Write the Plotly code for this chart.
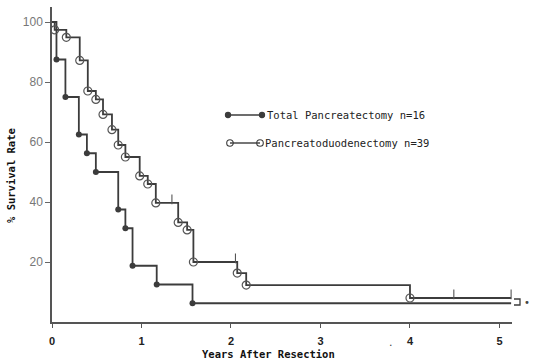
import plotly.graph_objects as go

# ---- data ----
tp_times = [0.05, 0.15, 0.30, 0.39, 0.49, 0.74, 0.82, 0.90, 1.17, 1.57]
tp_surv = [87.5, 75.0, 62.5, 56.25, 50.0, 37.5, 31.25, 18.75, 12.5, 6.25]
tp_end = 5.13

pd_times = [0.03, 0.16, 0.31, 0.40, 0.49, 0.57, 0.67, 0.74, 0.82, 0.98, 1.07, 1.16,
            1.41, 1.51, 1.58, 2.07, 2.17, 4.00]
pd_surv = [97.4, 94.9, 87.2, 77.0, 74.2, 69.2, 64.1, 59.0, 55.0, 48.7, 46.0, 39.7,
           33.2, 30.7, 20.0, 16.3, 12.3, 8.0]
pd_end = 5.13
pd_censor_times = [1.34, 2.05, 4.49, 5.13]

x_ticks = [0, 1, 2, 3, 4, 5]
y_ticks = [20, 40, 60, 80, 100]

tp_label = "Total Pancreatectomy n=16"
pd_label = "Pancreatoduodenectomy n=39"

LINE = "#3c3c3c"
MONO = "DejaVu Sans Mono"


def step_value(times, surv, t):
    v = 100.0
    for ti, si in zip(times, surv):
        if ti <= t:
            v = si
    return v


fig = go.Figure()

# step curves
fig.add_trace(go.Scatter(x=[0] + tp_times + [tp_end], y=[100] + tp_surv + [tp_surv[-1]],
                         mode="lines", line=dict(shape="hv", color=LINE, width=1.8),
                         showlegend=False, hoverinfo="skip"))
fig.add_trace(go.Scatter(x=[0] + pd_times + [pd_end], y=[100] + pd_surv + [pd_surv[-1]],
                         mode="lines", line=dict(shape="hv", color=LINE, width=1.8),
                         showlegend=False, hoverinfo="skip"))
# event markers
fig.add_trace(go.Scatter(x=tp_times, y=tp_surv, mode="markers",
                         marker=dict(symbol="circle", size=6, color=LINE),
                         name=tp_label, showlegend=False))
fig.add_trace(go.Scatter(x=pd_times, y=pd_surv, mode="markers",
                         marker=dict(symbol="circle-open", size=8, color="#555555",
                                     line=dict(width=1.2)),
                         name=pd_label, showlegend=False))
# censor ticks (drawn just above the curve)
cy = [step_value(pd_times, pd_surv, t) + 1.2 for t in pd_censor_times]
fig.add_trace(go.Scatter(x=pd_censor_times, y=cy, mode="markers",
                         marker=dict(symbol="line-ns", size=7, color="#555555",
                                     line=dict(width=1.1, color="#555555")),
                         showlegend=False, hoverinfo="skip"))

# ---- manual legend (marker at both ends of a short line) ----
def px_x(p):
    return (p - 52) / 460.0


def px_y(p):
    return (322 - p) / 315.0


shapes = []
annotations = []
legend_rows = [(tp_label, 115, 228, 262, "filled"), (pd_label, 143, 230, 260, "open")]
for label, yy, xa, xb, kind in legend_rows:
    shapes.append(dict(type="line", xref="paper", yref="paper",
                       x0=px_x(xa), x1=px_x(xb), y0=px_y(yy), y1=px_y(yy),
                       line=dict(color=LINE, width=1.4)))
    for xc in (xa, xb):
        r = 2.6 if kind == "filled" else 3.3
        shapes.append(dict(type="circle", xref="paper", yref="paper",
                           x0=px_x(xc - r), x1=px_x(xc + r),
                           y0=px_y(yy + r), y1=px_y(yy - r),
                           fillcolor=LINE if kind == "filled" else "rgba(0,0,0,0)",
                           line=dict(color=LINE, width=1.1)))
    annotations.append(dict(xref="paper", yref="paper", x=px_x(xb + 3), y=px_y(yy),
                            xanchor="left", yanchor="middle", showarrow=False,
                            text=label, font=dict(family=MONO, size=10.5, color="#222")))

# bracket joining curve ends + significance mark
shapes.append(dict(type="path", xref="paper", yref="paper",
                   path="M {a},{b} L {c},{b} L {c},{d} L {a},{d}".format(
                       a=px_x(514), c=px_x(520), b=px_y(299), d=px_y(305)),
                   line=dict(color=LINE, width=1.3)))
annotations.append(dict(xref="paper", yref="paper", x=px_x(527), y=px_y(302),
                        xanchor="center", yanchor="middle", showarrow=False,
                        text="•", font=dict(family="DejaVu Sans", size=10, color="#444")))
annotations.append(dict(xref="paper", yref="paper", x=px_x(391), y=px_y(342),
                        xanchor="center", yanchor="middle", showarrow=False,
                        text=".", font=dict(family="DejaVu Sans", size=11, color="#444")))

# axis titles
annotations.append(dict(xref="paper", yref="paper", x=px_x(268), y=px_y(354),
                        xanchor="center", yanchor="middle", showarrow=False,
                        text="<b>Years After Resection</b>",
                        font=dict(family=MONO, size=10.5, color="#111")))
annotations.append(dict(xref="paper", yref="paper", x=px_x(11), y=px_y(176),
                        xanchor="center", yanchor="middle", showarrow=False, textangle=-90,
                        text="<b>% Survival Rate</b>",
                        font=dict(family=MONO, size=10.5, color="#111")))

fig.update_layout(
    width=535, height=360,
    margin=dict(l=52, r=23, t=7, b=38, autoexpand=False),
    paper_bgcolor="white", plot_bgcolor="white",
    shapes=shapes, annotations=annotations,
    showlegend=False,
)
fig.update_xaxes(range=[0, 5.14], tickvals=x_ticks, ticktext=[str(v) for v in x_ticks],
                 showgrid=False, zeroline=False, showline=True, linecolor="#555",
                 linewidth=1.5, ticks="outside", ticklen=4, tickcolor="#555",
                 tickfont=dict(family="Liberation Sans", size=11, color="#222", weight="bold"),
                 ticklabelstandoff=4, automargin=False)
fig.update_yaxes(range=[0, 105], tickvals=y_ticks, showgrid=False, zeroline=False,
                 showline=True, linecolor="#555", linewidth=1.5, ticks="outside",
                 ticklen=5, tickcolor="#666", automargin=False,
                 tickfont=dict(family="Liberation Sans", size=12, color="#777"))

fig.write_html("out.html", config={"displayModeBar": False},
               post_script="document.body.style.margin='0px';document.body.style.padding='0px';")
